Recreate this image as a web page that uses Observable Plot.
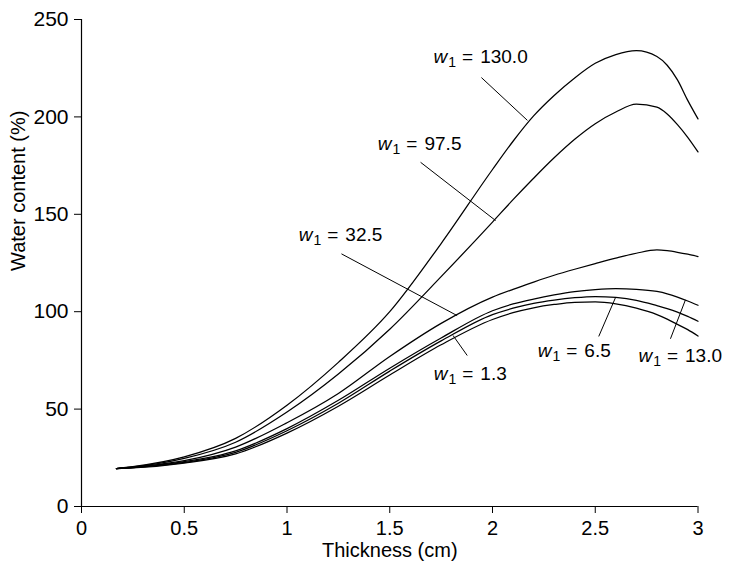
<!DOCTYPE html>
<html><head><meta charset="utf-8">
<script src="https://cdn.jsdelivr.net/npm/d3@7"></script>
<script src="https://cdn.jsdelivr.net/npm/@observablehq/plot@0.6"></script>
<style>body{margin:0;background:#fff}</style>
</head><body><div id="chart"></div>
<script>
// Thickness (cm) sample positions shared by all curves
const thickness = [0.17,0.25,0.5,0.75,1.0,1.25,1.5,1.75,2.0,2.1,2.2,2.3,2.4,2.5,2.6,2.7,2.8,2.85,2.9,2.95,3.0];
// Water content (%) for each w1 value
const w130  = [19.5,20.5,25.5,35,52,74,100,135,173,187.5,200.5,211,220,227.5,232,234,231,226.5,219,208.5,199];
const w97_5 = [19.5,20.3,24.7,33,48.5,68,91,118,146,157.5,168.5,179,188.5,196.5,202.5,206.5,205,201.5,196,189.5,182];
const w32_5 = [19.5,20.2,23.5,30.5,43,58,77,94,107.5,111.5,115.2,118.7,121.8,124.7,127.5,130,131.7,131.3,130.5,129.5,128.3];
const w13   = [19.5,20,23,28.6,40,54.5,71,86.5,100.5,104,106.5,108.6,110.3,111.3,111.8,111.5,110.4,109.2,107.5,105.5,103.3];
const w6_5  = [19.5,19.9,22.6,27.8,38.9,53,69.5,85,98.5,101.8,104.3,106,107.2,107.8,107.3,105.8,103.1,101.6,99.8,97.6,95.1];
const w1_3  = [19.5,19.8,22.3,27,37.7,51.5,67.5,83,96,99.5,102,103.7,104.8,105,104,101.8,98.5,96.2,93.5,90.8,87.5];
const seriesNames = ["130.0","97.5","32.5","13.0","6.5","1.3"];
const seriesValues = [w130, w97_5, w32_5, w13, w6_5, w1_3];

const xTicks = [0,0.5,1,1.5,2,2.5,3];
const yTicks = [0,50,100,150,200,250];
const xTitle = ["Thickness (cm)"];
const yTitle = ["Water content (%)"];

// annotation labels (data units) and leader lines
const labelText = ["130.0","97.5","32.5","1.3","6.5","13.0"];
const labelX = [1.713,1.442,1.057,1.714,2.220,2.710];
const labelY = [230.7,185.9,139.5,67.9,79.8,77.3];
const leaderX1 = [1.946,1.650,1.265,1.877,2.517,2.866];
const leaderY1 = [220.2,176.7,129.7,77.5,87.3,86.1];
const leaderX2 = [2.170,2.015,1.828,1.808,2.598,2.939];
const leaderY2 = [198.2,146.8,98.0,87.8,107.1,106.1];

const table = seriesNames.flatMap((w, i) => thickness.map((x, j) => ({w, x, y: seriesValues[i][j]})));
const labels = labelText.map((t, i) => ({t, x: labelX[i], y: labelY[i]}));
const leaders = leaderX1.map((_, i) => ({x1: leaderX1[i], y1: leaderY1[i], x2: leaderX2[i], y2: leaderY2[i]}));

const chart = Plot.plot({
  width: 729, height: 563,
  marginLeft: 81, marginRight: 31.5, marginTop: 19, marginBottom: 57,
  style: {fontFamily: "'Liberation Sans', Arial, sans-serif", fontSize: "20px", color: "#000", background: "#fff", overflow: "visible"},
  x: {domain: [0, 3], label: null},
  y: {domain: [0, 250], label: null},
  marks: [
    Plot.axisX({ticks: xTicks, tickFormat: d => String(d), tickSize: 7, tickPadding: 7, label: null, fontSize: 20}),
    Plot.axisY({ticks: yTicks, tickFormat: d => String(d), tickSize: 7, tickPadding: 6, label: null, fontSize: 21}),
    Plot.ruleX([0], {stroke: "#000", strokeWidth: 1.2}),
    Plot.ruleY([0], {stroke: "#000", strokeWidth: 1.2}),
    Plot.line(table, {x: "x", y: "y", z: "w", curve: "monotone-x", stroke: "#000", strokeWidth: 1.25}),
    Plot.link(leaders, {x1: "x1", y1: "y1", x2: "x2", y2: "y2", stroke: "#000", strokeWidth: 1}),
    Plot.text(labels, {x: "x", y: "y", text: "t", textAnchor: "start", fontSize: 19}),
    Plot.text(xTitle, {text: d => d, frameAnchor: "bottom", lineAnchor: "middle", dy: 44, fontSize: 20}),
    Plot.text(yTitle, {text: d => d, frameAnchor: "left", rotate: -90, lineAnchor: "middle", dx: -63, dy: 8, fontSize: 20})
  ]
});
document.getElementById("chart").appendChild(chart);

// turn each label value into "w₁ = value" with italic w and subscript 1
d3.select(chart).selectAll("text").filter(function() {
  return labelText.includes(this.textContent) && this.parentNode.getAttribute("font-size") === "19";
}).each(function() {
  const t = d3.select(this);
  const v = this.textContent;
  t.text(null);
  t.append("tspan").attr("font-style", "italic").text("w");
  t.append("tspan").attr("font-size", "14px").attr("dx", "1").attr("dy", "4").text("1");
  t.append("tspan").attr("dy", "-4").attr("dx", "6").text("=");
  t.append("tspan").attr("dx", "7").text(v);
});
</script>
</body></html>
